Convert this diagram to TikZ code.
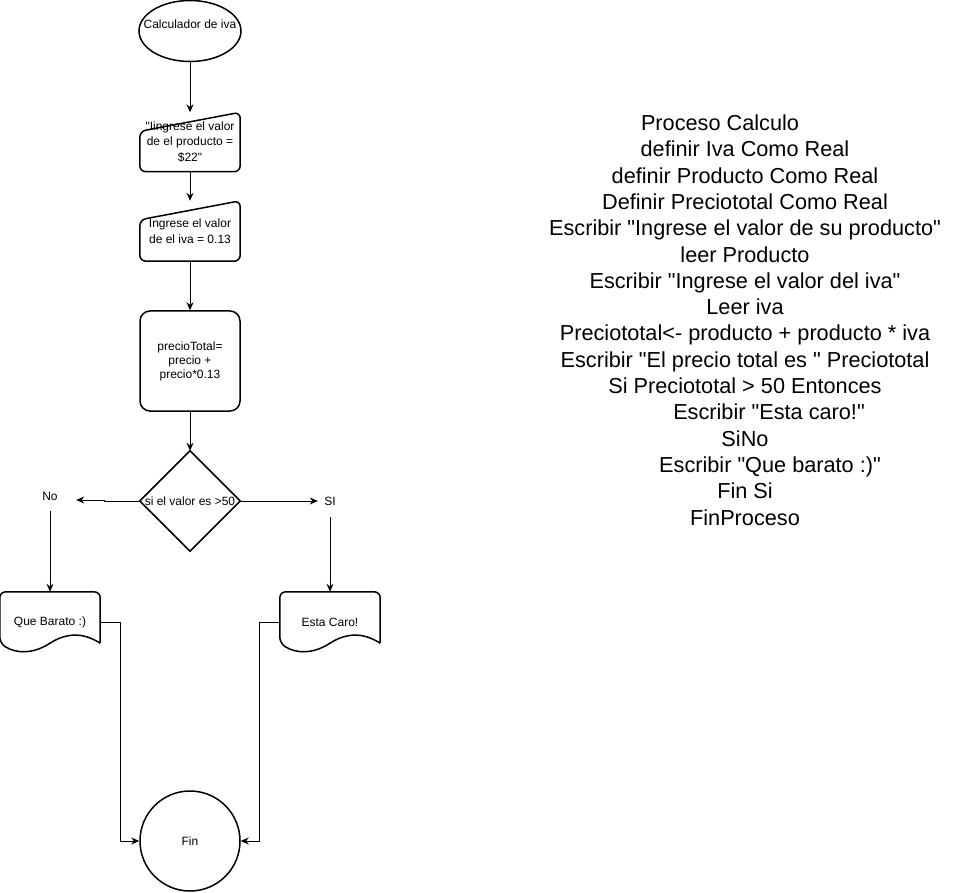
\documentclass[tikz,border=0pt]{standalone}
\usepackage{fontspec}
\setmainfont{Liberation Sans}[Ligatures=TeXOff]
\usetikzlibrary{calc}
\usetikzlibrary{arrows.meta}

\begin{document}
\begin{tikzpicture}[x=1pt, y=-1pt,
		box/.style={minimum width=100pt, minimum height=60pt, inner sep=0pt, align=center, font=\fontsize{12}{15.5}\selectfont},
		outline/.style={draw=black, line width=1.5pt},
		conn/.style={-{Stealth[length=8pt, width=7pt]}, line width=1pt},
		lbl/.style={inner sep=0pt, font=\fontsize{12}{15}\selectfont}
		]
		\useasboundingbox (0,0) rectangle (961,893);

		% Flowchart nodes
		\node[box, minimum width=102pt, minimum height=61pt, text height=9pt, text depth=14pt] (start) at (190,31) {Calculador de iva};
		\node[box, minimum height=59pt] (in1) at (190,142) {"Iingrese el valor\\de el producto =\\\$22"};
		\node[box] (in2) at (190,231) {Ingrese el valor\\de el iva = 0.13};
		\node[box, minimum height=100pt, outline, rounded corners=10pt, font=\fontsize{12}{14}\selectfont] (proc) at (190,361) {precioTotal=\\precio +\\precio*0.13};
		\node[box, minimum height=100pt] (dec) at (190,501) {si el valor es >50};
		\node[lbl, minimum width=52pt, minimum height=22pt, text height=8.6pt, text depth=8pt] (no) at (50,500) {No};
		\node[lbl, minimum width=24pt, minimum height=32pt] (si) at (330,501) {SI};
		\node[box] (qb) at (50,622) {Que Barato :)};
		\node[box] (ec) at (330,622) {Esta Caro!};
		\node[box, circle, outline, minimum size=100pt] (fin) at (190,841) {Fin};

		% Shape outlines
		\draw[outline] (start) ellipse [x radius=51pt, y radius=30.5pt];
		\draw[outline, rounded corners=6pt] (in1.south west) -- ($(in1.north west)+(0,19)$) -- (in1.north east) -- (in1.south east) -- cycle;
		\draw[outline, rounded corners=6pt] (in2.south west) -- ($(in2.north west)+(0,19)$) -- (in2.north east) -- (in2.south east) -- cycle;
		\draw[outline] (dec.north) -- (dec.east) -- (dec.south) -- (dec.west) -- cycle;
		\draw[outline] ($(qb.south east)+(0,-9)$) [rounded corners=6pt] -- (qb.north east) -- (qb.north west) -- ($(qb.south west)+(0,-9)$) [sharp corners]
			.. controls +(16.7,10.8) and +(-16.7,10.8) .. ($(qb.south)+(0,-9)$)
			.. controls +(16.7,-10.8) and +(-16.7,-10.8) .. ($(qb.south east)+(0,-9)$);
		\draw[outline] ($(ec.south east)+(0,-9)$) [rounded corners=6pt] -- (ec.north east) -- (ec.north west) -- ($(ec.south west)+(0,-9)$) [sharp corners]
			.. controls +(16.7,10.8) and +(-16.7,10.8) .. ($(ec.south)+(0,-9)$)
			.. controls +(16.7,-10.8) and +(-16.7,-10.8) .. ($(ec.south east)+(0,-9)$);

		% Connectors
		\draw[conn] (start) -- (in1);
		\draw[conn] (in1) -- (in2);
		\draw[conn] (in2) -- (proc);
		\draw[conn] (proc) -- (dec);
		\draw[conn] (dec.west) -- ++(-35,0) |- (no.east);
		\draw[conn] (dec.east) -- (si.west);
		\draw[conn] (no) -- (qb);
		\draw[conn] (si) -- (ec);
		\draw[conn] (qb.east) -- ++(20,0) |- (fin.west);
		\draw[conn] (ec.west) -- ++(-20,0) |- (fin.east);

		% Pseudocode
		\node[inner sep=0pt, align=center, font=\fontsize{21.7}{26.3}\selectfont] (code) at (745,320) {Proceso Calculo\hspace*{50pt}\\
			definir Iva Como Real\\
			definir Producto Como Real\\
			Definir Preciototal Como Real\\
			Escribir "Ingrese el valor de su producto"\\
			leer Producto\\
			Escribir "Ingrese el valor del iva"\\
			Leer iva\\
			Preciototal<- producto + producto * iva\\
			Escribir "El precio total es " Preciototal\\
			Si Preciototal > 50 Entonces\\
			\hspace*{48pt}Escribir "Esta caro!"\\
			SiNo\\
			\hspace*{50pt}Escribir "Que barato :)"\\
			Fin Si\\
			FinProceso};
	\end{tikzpicture}
\end{document}
